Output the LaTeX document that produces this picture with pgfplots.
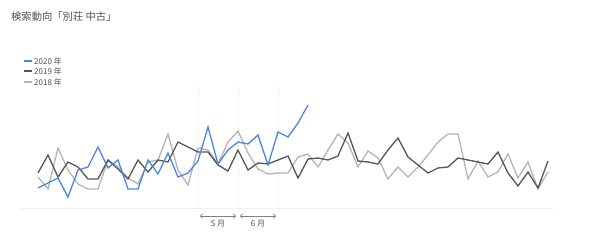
\documentclass[border=0pt]{standalone}
\usepackage{fontspec}
\setmainfont{Noto Sans CJK JP}
\usepackage{pgfplots}
\pgfplotsset{compat=1.18}
\usetikzlibrary{arrows.meta}
\definecolor{c20}{HTML}{4A86E8}
\definecolor{c19}{HTML}{555555}
\definecolor{c18}{HTML}{B4B4B4}
\definecolor{titlec}{HTML}{505050}
\definecolor{annc}{HTML}{808080}
\begin{document}
\begin{tikzpicture}
\path[use as bounding box] (0,0) rectangle (590pt,247pt);
\node[anchor=west, text=titlec, font=\fontsize{10.3}{12}\selectfont, inner sep=0pt] at (11pt,230pt) {検索動向「別荘 中古」};
% legend
\draw[c20, line width=1.3pt] (24pt,186pt) -- (32pt,186pt);
\draw[c19, line width=1.3pt] (24pt,176pt) -- (32pt,176pt);
\draw[c18, line width=1.3pt] (24pt,165pt) -- (32pt,165pt);
\node[anchor=west, text=titlec, font=\fontsize{8}{9}\selectfont, inner sep=0pt] at (34pt,186pt) {2020 年};
\node[anchor=west, text=titlec, font=\fontsize{8}{9}\selectfont, inner sep=0pt] at (34pt,176pt) {2019 年};
\node[anchor=west, text=titlec, font=\fontsize{8}{9}\selectfont, inner sep=0pt] at (34pt,165pt) {2018 年};
\begin{axis}[
  at={(20pt,39pt)}, anchor=south west,
  scale only axis, width=533pt, height=123pt,
  xmin=-1.8, xmax=51.5, ymin=0, ymax=123,
  axis lines=none, ticks=none, clip=false,
]
\draw[gray!12, line width=0.6pt] (axis cs:-1.8,0) -- (axis cs:51.5,0);
\foreach \xx in {16,20,24} {
  \edef\tmp{\noexpand\draw[gray!20, dotted, line width=0.5pt] (axis cs:\xx,0) -- (axis cs:\xx,123);}\tmp
}
\draw[annc, {To[length=3pt,width=5pt]}-{To[length=3pt,width=5pt]}, line width=0.6pt] (axis cs:16.2,-8) -- (axis cs:19.8,-8);
\draw[annc, {To[length=3pt,width=5pt]}-{To[length=3pt,width=5pt]}, line width=0.6pt] (axis cs:20.2,-8) -- (axis cs:23.8,-8);
\node[text=titlec, font=\fontsize{8}{9}\selectfont, inner sep=0pt] at (axis cs:18,-16) {5 月};
\node[text=titlec, font=\fontsize{8}{9}\selectfont, inner sep=0pt] at (axis cs:22,-16) {6 月};
% 2018
\addplot[c18, line width=1.3pt, no marks] coordinates {
(0,31)(1,19)(2,60)(3,38)(4,24)(5,19)(6,19)(7,48)(8,41)(9,30)(10,24)(11,46)(12,48)(13,74)(14,38)(15,23)(16,60)(17,58)(18,44)(19,66)(20,77)(21,55)(22,39)(23,34)(24,35)(25,35)(26,51)(27,54)(28,41)(29,58)(30,74)(31,65)(32,41)(33,57)(34,50)(35,29)(36,41)(37,31)(38,41)(39,53)(40,66)(41,74)(42,74)(43,29)(44,47)(45,31)(46,36)(47,54)(48,30)(49,46)(50,19)(51,36)
};
% 2019
\addplot[c19, line width=1.3pt, no marks] coordinates {
(0,35)(1,53)(2,31)(3,46)(4,41)(5,29)(6,29)(7,48)(8,39)(9,29)(10,48)(11,36)(12,48)(13,46)(14,66)(15,61)(16,56)(17,56)(18,43)(19,37)(20,58)(21,38)(22,45)(23,44)(24,48)(25,52)(26,30)(27,49)(28,50)(29,48)(30,52)(31,75)(32,47)(33,46)(34,44)(35,58)(36,70)(37,51)(38,43)(39,35)(40,40)(41,41)(42,50)(43,48)(44,46)(45,44)(46,56)(47,35)(48,22)(49,36)(50,20)(51,47)
};
% 2020
\addplot[c20, line width=1.3pt, no marks] coordinates {
(0,20)(1,25)(2,30)(3,11)(4,38)(5,41)(6,61)(7,40)(8,48)(9,19)(10,19)(11,48)(12,34)(13,55)(14,31)(15,35)(16,47)(17,81)(18,44)(19,58)(20,66)(21,64)(22,73)(23,43)(24,76)(25,71)(26,85)(27,103)
};
\end{axis}
\end{tikzpicture}
\end{document}
